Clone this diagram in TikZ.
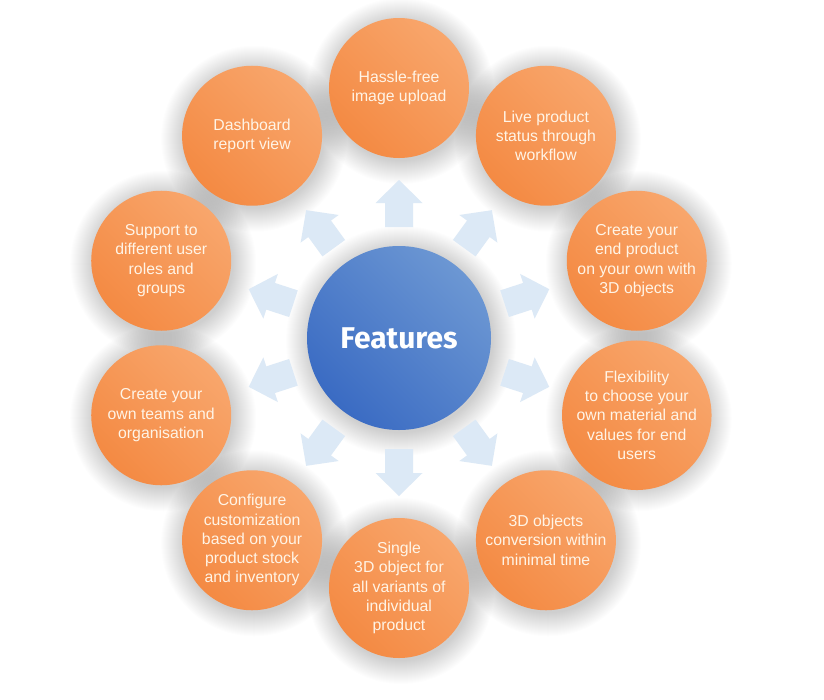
\documentclass[tikz,border=0pt]{standalone}
\usepackage{fontspec}
\setmainfont{Liberation Sans}
\newfontfamily\featfont{Fira Sans}
\definecolor{orlight}{HTML}{F8A66C}
\definecolor{ordark}{HTML}{F48A43}
\definecolor{bluelight}{HTML}{6C97D3}
\definecolor{bluedark}{HTML}{3A6BC3}
\definecolor{arrowblue}{HTML}{DCE9F6}
\definecolor{cream}{HTML}{FFF4E6}
\tikzset{
  featcircle/.style={circle, minimum size=140pt, inner sep=0pt, align=center,
    text=cream, font=\fontsize{15.8}{19.3}\selectfont,
    top color=orlight, bottom color=ordark, shading angle=-45},
  hubcircle/.style={circle, minimum size=184pt, inner sep=0pt,
    text=white, font=\featfont\bfseries\fontsize{30}{34}\selectfont,
    top color=bluelight, bottom color=bluedark, shading angle=-45},
  shadowring/.style={fill=black, opacity=0.006},
  blockarrow/.style={fill=arrowblue}
}
\begin{document}
\begin{tikzpicture}[x=1pt,y=-1pt]
\useasboundingbox (0,0) rectangle (824,699);
\fill[white] (0,0) rectangle (824,699);
% soft shadows
\foreach \k in {0,...,9} {
  \foreach \i in {1,...,24} {
    \fill[shadowring] ({401+250*cos(-90+36*\k)},{341+250*sin(-90+36*\k)}) circle (69+\i);
  }
}
\foreach \i in {1,...,24} {
  \fill[shadowring] (401,341) circle (91+\i);
}
% block arrows
\foreach \k in {0,...,9} {
  \fill[blockarrow, shift={(399,338)}, rotate=-90+36*\k]
    (111,-14) -- (135,-14) -- (135,-23.5) -- (158,0) -- (135,23.5) -- (135,14) -- (111,14) -- cycle;
}
% feature circles
\node[featcircle] (f1) at ({399+250*cos(-90)},{338+250*sin(-90)}) {Hassle-free\\image upload};
\node[featcircle] (f2) at ({399+250*cos(-54)},{338+250*sin(-54)}) {Live product\\status through\\workflow};
\node[featcircle] (f3) at ({399+250*cos(-18)},{338+250*sin(-18)}) {Create your\\end product\\on your own with\\3D objects};
\node[featcircle] (f4) at ({399+250*cos(18)},{338+250*sin(18)}) {Flexibility\\to choose your\\own material and\\values for end\\users};
\node[featcircle] (f5) at ({399+250*cos(54)},{338+250*sin(54)}) {3D objects\\conversion within\\minimal time};
\node[featcircle] (f6) at ({399+250*cos(90)},{338+250*sin(90)}) {Single\\3D object for\\all variants of\\individual\\product};
\node[featcircle] (f7) at ({399+250*cos(126)},{338+250*sin(126)}) {Configure\\customization\\based on your\\product stock\\and inventory};
\node[featcircle] (f8) at ({399+250*cos(162)},{338+250*sin(162)}) {Create your\\own teams and\\organisation};
\node[featcircle] (f9) at ({399+250*cos(198)},{338+250*sin(198)}) {Support to\\different user\\roles and\\groups};
\node[featcircle] (f10) at ({399+250*cos(234)},{338+250*sin(234)}) {Dashboard\\report view};
% hub
\node[hubcircle] (hub) at (399,338) {Features};
\end{tikzpicture}
\end{document}
